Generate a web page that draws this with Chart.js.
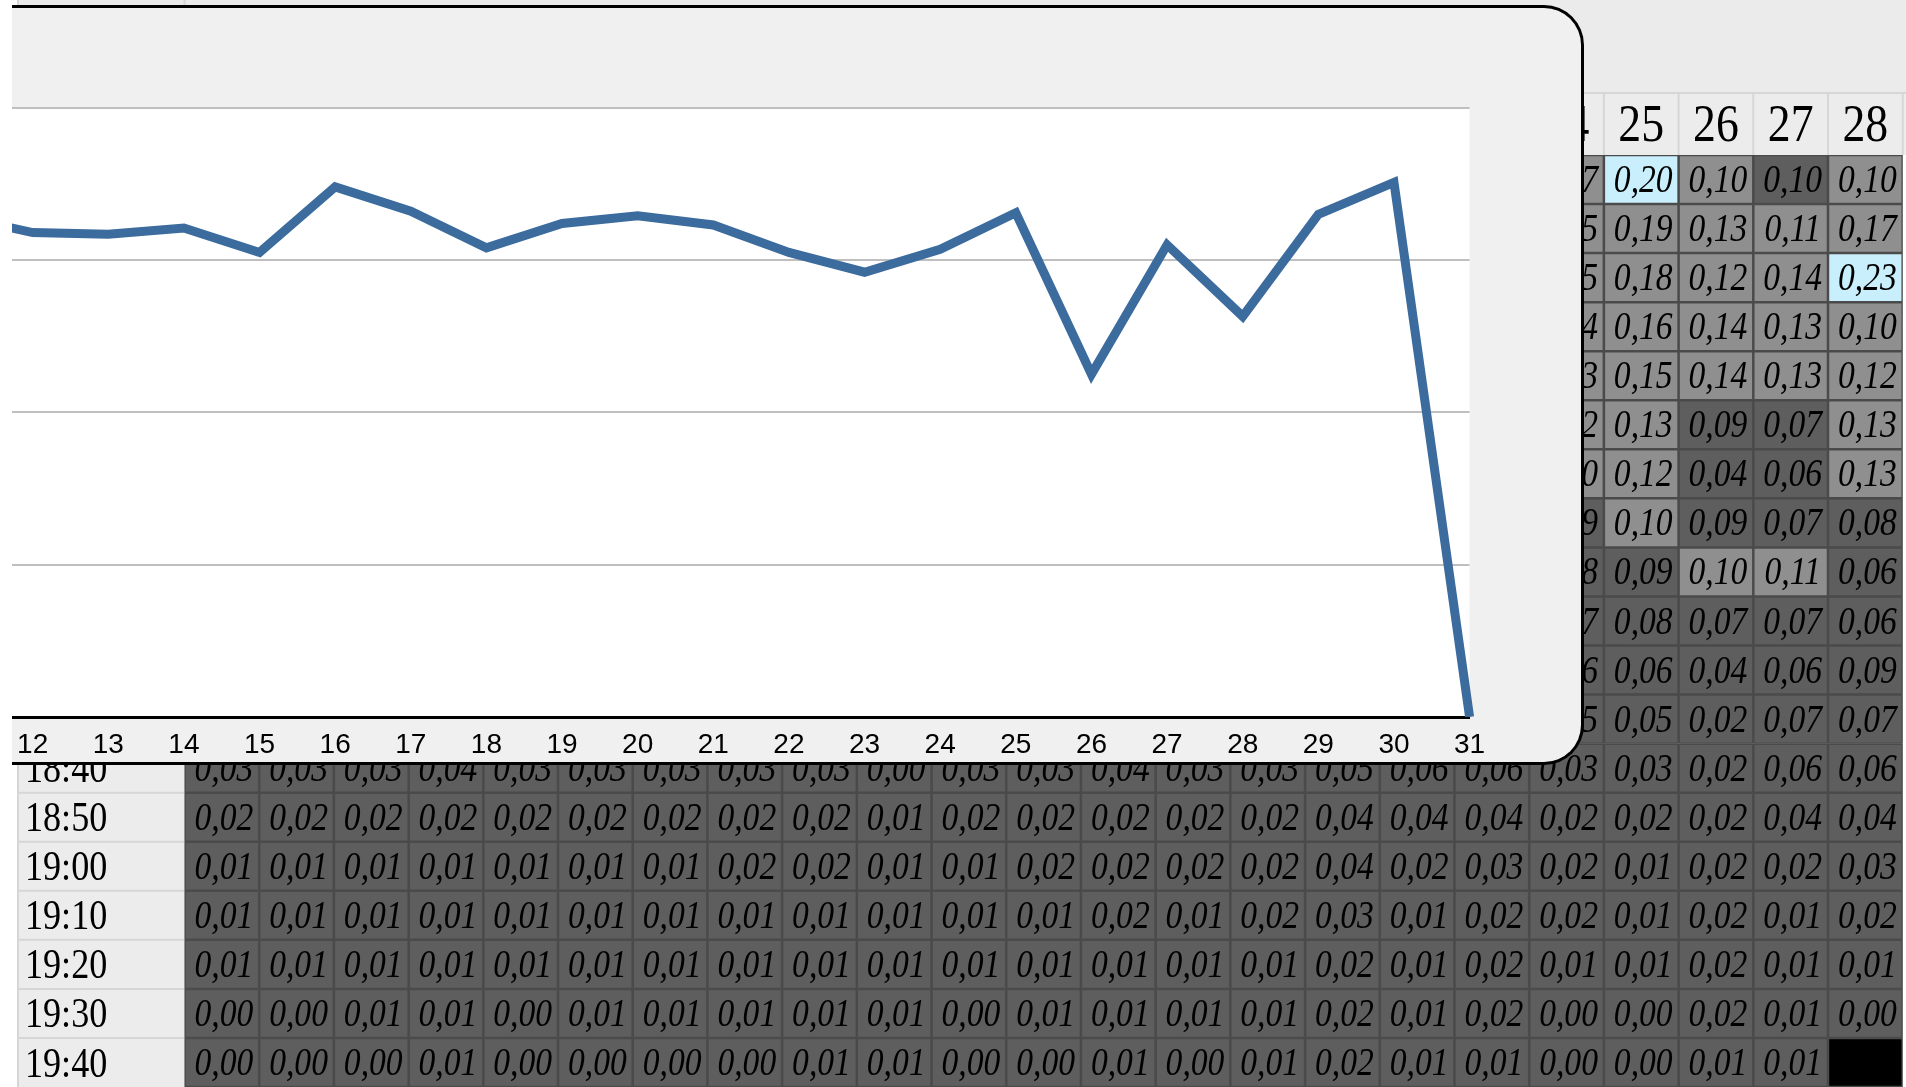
<!DOCTYPE html>
<html lang="en">
<head>
<meta charset="utf-8">
<title>Daily totals</title>
<script src="https://cdn.jsdelivr.net/npm/chart.js@4.4.1/dist/chart.umd.min.js"></script>
<style>
  html, body { margin: 0; padding: 0; background: #fff; overflow: hidden; }
  #page { position: relative; width: 1906px; height: 1087px; overflow: hidden; }
  #sheetChart { position: absolute; left: 0; top: 0; }
  #popup {
    position: absolute; left: 12px; top: 5px; width: 1569px; height: 754px;
    background: #f0f0f0; border: 3px solid #000; border-left: none;
    border-radius: 0 40px 40px 0; overflow: hidden;
  }
  #dailyChart { position: absolute; left: -105px; top: 0; }
</style>
</head>
<body>
<div id="page">
  <canvas id="sheetChart" width="1906" height="1087"></canvas>
  <div id="popup"><canvas id="dailyChart" width="1690" height="754"></canvas></div>
</div>
<script>
// popup line chart: one total per day
const dayLabels = ['11', '12', '13', '14', '15', '16', '17', '18', '19', '20', '21',
                   '22', '23', '24', '25', '26', '27', '28', '29', '30', '31'];
const dayTotals = [32.9, 31.8, 31.7, 32.1, 30.5, 34.8, 33.2, 30.8, 32.4, 32.9, 32.3,
                   30.5, 29.2, 30.7, 33.1, 22.5, 31.0, 26.3, 33.0, 35.1, 0];
const totalTicks = [0, 10, 20, 30, 40];

// spreadsheet behind the popup
const sheetDays = ['6', '7', '8', '9', '10', '11', '12', '13', '14', '15', '16', '17',
                   '18', '19', '20', '21', '22', '23', '24', '25', '26', '27', '28'];
const sheetTimes = ['16:40', '16:50', '17:00', '17:10', '17:20', '17:30', '17:40', '17:50',
                    '18:00', '18:10', '18:20', '18:30', '18:40', '18:50', '19:00', '19:10',
                    '19:20', '19:30', '19:40'];
// 16:40 - 18:30, only days 24 - 28 show beside the popup
const upperFirstDay = '24';
const upperRows = [
  [0.17, 0.20, 0.10, 0.097, 0.10],
  [0.15, 0.19, 0.13, 0.11, 0.17],
  [0.15, 0.18, 0.12, 0.14, 0.23],
  [0.14, 0.16, 0.14, 0.13, 0.10],
  [0.13, 0.15, 0.14, 0.13, 0.12],
  [0.12, 0.13, 0.09, 0.07, 0.13],
  [0.10, 0.12, 0.04, 0.06, 0.13],
  [0.09, 0.10, 0.09, 0.07, 0.08],
  [0.08, 0.09, 0.10, 0.11, 0.06],
  [0.07, 0.08, 0.07, 0.07, 0.06],
  [0.06, 0.06, 0.04, 0.06, 0.09],
  [0.05, 0.05, 0.02, 0.07, 0.07]
];
// 18:40 - 19:40, days 6 - 28 (null = no reading yet)
const lowerRows = [
  [0.03, 0.03, 0.03, 0.04, 0.03, 0.03, 0.03, 0.03, 0.03, 0.00, 0.03, 0.03, 0.04, 0.03, 0.03, 0.05, 0.06, 0.06, 0.03, 0.03, 0.02, 0.06, 0.06],
  [0.02, 0.02, 0.02, 0.02, 0.02, 0.02, 0.02, 0.02, 0.02, 0.01, 0.02, 0.02, 0.02, 0.02, 0.02, 0.04, 0.04, 0.04, 0.02, 0.02, 0.02, 0.04, 0.04],
  [0.01, 0.01, 0.01, 0.01, 0.01, 0.01, 0.01, 0.02, 0.02, 0.01, 0.01, 0.02, 0.02, 0.02, 0.02, 0.04, 0.02, 0.03, 0.02, 0.01, 0.02, 0.02, 0.03],
  [0.01, 0.01, 0.01, 0.01, 0.01, 0.01, 0.01, 0.01, 0.01, 0.01, 0.01, 0.01, 0.02, 0.01, 0.02, 0.03, 0.01, 0.02, 0.02, 0.01, 0.02, 0.01, 0.02],
  [0.01, 0.01, 0.01, 0.01, 0.01, 0.01, 0.01, 0.01, 0.01, 0.01, 0.01, 0.01, 0.01, 0.01, 0.01, 0.02, 0.01, 0.02, 0.01, 0.01, 0.02, 0.01, 0.01],
  [0.00, 0.00, 0.01, 0.01, 0.00, 0.01, 0.01, 0.01, 0.01, 0.01, 0.00, 0.01, 0.01, 0.01, 0.01, 0.02, 0.01, 0.02, 0.00, 0.00, 0.02, 0.01, 0.00],
  [0.00, 0.00, 0.00, 0.01, 0.00, 0.00, 0.00, 0.00, 0.01, 0.01, 0.00, 0.00, 0.01, 0.00, 0.01, 0.02, 0.01, 0.01, 0.00, 0.00, 0.01, 0.01, null]
];

const HEADER_TOP = 93;
const LABEL_LEFT = 18;

// Function to look up one sheet cell (undefined = not part of the visible sheet)
function cellValue(r, i) {
  if (r < upperRows.length) {
    const first = sheetDays.indexOf(upperFirstDay);
    return i >= first ? upperRows[r][i - first] : undefined;
  }
  return lowerRows[r - upperRows.length][i];
}

// Function to pick the conditional-format colour of a cell
function cellColour(v) {
  if (v === null) return '#000000';
  if (v >= 0.2) return '#c9effd';
  if (v >= 0.1) return '#8f8f8f';
  return '#5e5e5e';
}

// Function to write condensed text (the sheet font is narrow)
function narrowText(ctx, text, x, y, squeeze) {
  ctx.save();
  ctx.translate(x, y);
  ctx.scale(squeeze, 1);
  ctx.fillText(text, 0, 0);
  ctx.restore();
}

// Header row, time column and cell texts of the sheet
const sheetDecor = {
  id: 'sheetDecor',
  beforeDatasetsDraw(chart) {
    const { ctx, chartArea, scales: { x, y } } = chart;
    const colW = x.getPixelForValue(1) - x.getPixelForValue(0);
    ctx.save();
    // title band + header row
    ctx.fillStyle = '#ebebeb';
    ctx.fillRect(LABEL_LEFT, 0, chart.width - LABEL_LEFT, chartArea.top);
    ctx.fillStyle = '#ececec';
    ctx.fillRect(LABEL_LEFT, HEADER_TOP, chart.width - LABEL_LEFT, chartArea.top - HEADER_TOP);
    ctx.strokeStyle = '#d6d6d6';
    ctx.lineWidth = 2;
    ctx.beginPath();
    ctx.moveTo(LABEL_LEFT, HEADER_TOP);
    ctx.lineTo(chart.width, HEADER_TOP);
    ctx.moveTo(LABEL_LEFT, 0);
    ctx.lineTo(LABEL_LEFT, chart.height);
    ctx.moveTo(chartArea.left, 0);
    ctx.lineTo(chartArea.left, chartArea.top);
    sheetDays.forEach((d, i) => {
      const right = x.getPixelForValue(i) + colW / 2;
      ctx.moveTo(right, HEADER_TOP);
      ctx.lineTo(right, chartArea.top);
    });
    ctx.stroke();

    ctx.fillStyle = '#000';
    ctx.textAlign = 'center';
    ctx.textBaseline = 'middle';
    ctx.font = '52px "Liberation Serif", serif';
    const headMid = (HEADER_TOP + chartArea.top) / 2 + 3;
    sheetDays.forEach((d, i) => narrowText(ctx, d, x.getPixelForValue(i), headMid, 0.88));

    // time column
    ctx.textAlign = 'left';
    ctx.font = '42px "Liberation Serif", serif';
    sheetTimes.forEach((t, r) => {
      const top = y.getPixelForValue(r);
      const bottom = y.getPixelForValue(r + 1);
      ctx.fillStyle = '#ececec';
      ctx.fillRect(LABEL_LEFT + 1, top, chartArea.left - LABEL_LEFT - 1, bottom - top);
      ctx.strokeStyle = '#d6d6d6';
      ctx.beginPath();
      ctx.moveTo(LABEL_LEFT, top);
      ctx.lineTo(chartArea.left, top);
      ctx.stroke();
      ctx.fillStyle = '#000';
      narrowText(ctx, t, 25, (top + bottom) / 2 + 3, 0.86);
    });

    // dark grout under the cells so the seams stay dark
    const firstRow = y.getPixelForValue(upperRows.length);
    ctx.fillStyle = '#4b4b4b';
    ctx.fillRect(chartArea.left, firstRow, chartArea.width, chartArea.bottom - firstRow);
    const first = sheetDays.indexOf(upperFirstDay);
    const stripLeft = x.getPixelForValue(first) - colW / 2;
    ctx.fillRect(stripLeft, chartArea.top, chartArea.right - stripLeft, firstRow - chartArea.top);
    ctx.restore();
  },
  afterDatasetsDraw(chart) {
    const { ctx, scales: { x, y } } = chart;
    ctx.save();
    ctx.fillStyle = '#000';
    ctx.textAlign = 'center';
    ctx.textBaseline = 'middle';
    ctx.font = 'italic 40px "Liberation Serif", serif';
    sheetTimes.forEach((t, r) => {
      sheetDays.forEach((d, i) => {
        const v = cellValue(r, i);
        if (v === undefined || v === null) return;
        narrowText(ctx, v.toFixed(2).replace('.', ','), x.getPixelForValue(i) + 2, y.getPixelForValue(r + 0.5) + 2, 0.84);
      });
    });
    ctx.restore();
  }
};

// Function to draw the sheet as floating bars, one dataset per time row
function drawSheet() {
  const datasets = sheetTimes.map((t, r) => ({
    label: t,
    data: sheetDays.map((d, i) => cellValue(r, i) === undefined ? null : [r, r + 1]),
    backgroundColor: sheetDays.map((d, i) => cellColour(cellValue(r, i))),
    borderColor: '#4b4b4b',
    borderWidth: 1.25,
    borderSkipped: false,
    inflateAmount: 0,
    grouped: false,
    categoryPercentage: 1,
    barPercentage: 1
  }));
  new Chart(document.getElementById('sheetChart'), {
    type: 'bar',
    data: { labels: sheetDays, datasets: datasets },
    options: {
      responsive: false,
      animation: false,
      layout: { padding: { left: 184.5, right: 3.3, top: 155, bottom: 0 } },
      plugins: { legend: { display: false }, tooltip: { enabled: false } },
      scales: {
        x: { display: false },
        y: { display: false, reverse: true, min: 0, max: sheetTimes.length }
      }
    },
    plugins: [sheetDecor]
  });
}

// White plot area inside the grey popup
const plotBackground = {
  id: 'plotBackground',
  beforeDraw(chart) {
    const { ctx, chartArea } = chart;
    ctx.save();
    ctx.fillStyle = '#ffffff';
    ctx.fillRect(chartArea.left, chartArea.top, chartArea.width, chartArea.height);
    ctx.restore();
  }
};

// Function to draw the daily line chart in the popup
function drawDaily() {
  new Chart(document.getElementById('dailyChart'), {
    type: 'line',
    data: {
      labels: dayLabels,
      datasets: [{
        data: dayTotals,
        borderColor: '#3c6b9e',
        borderWidth: 9,
        borderJoinStyle: 'miter',
        borderCapStyle: 'butt',
        pointRadius: 0,
        tension: 0,
        fill: false
      }]
    },
    options: {
      responsive: false,
      animation: false,
      layout: { padding: { left: 50, right: 127.4, top: 99.7, bottom: 0 } },
      plugins: { legend: { display: false }, tooltip: { enabled: false } },
      scales: {
        x: {
          offset: false,
          grid: { color: 'rgba(0,0,0,0)', drawTicks: false },
          border: { display: true, color: '#000', width: 3 },
          ticks: {
            autoSkip: false, maxRotation: 0, padding: 11, color: '#000',
            font: { family: '"Liberation Sans", Arial, sans-serif', size: 28 }
          },
          afterFit: (scale) => { scale.height = 45; }
        },
        y: {
          min: totalTicks[0],
          max: totalTicks[totalTicks.length - 1],
          afterBuildTicks: (scale) => { scale.ticks = totalTicks.map(v => ({ value: v })); },
          ticks: { display: false },
          grid: {
            drawTicks: false,
            lineWidth: 2,
            color: (ctx) => ctx.tick && ctx.tick.value === 0 ? 'rgba(0,0,0,0)' : '#bfbfbf'
          },
          border: { display: false },
          afterFit: (scale) => { scale.width = 0; }
        }
      }
    },
    plugins: [plotBackground]
  });
}

drawSheet();
drawDaily();
</script>
</body>
</html>
